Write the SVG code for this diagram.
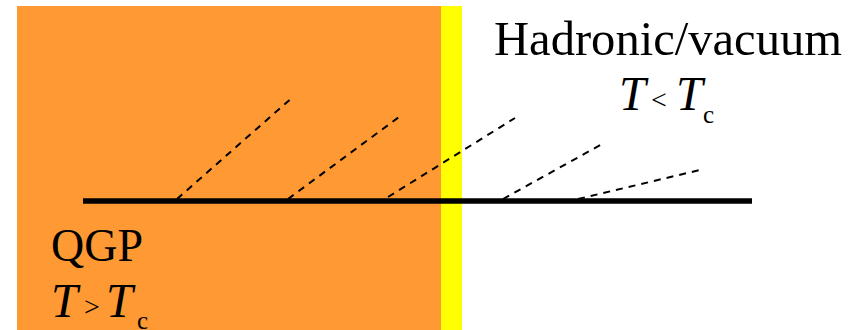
<svg xmlns="http://www.w3.org/2000/svg" width="862" height="330" viewBox="0 0 862 330">
  <style>
    .lbl { font-family: "Liberation Serif", "DejaVu Serif", serif; fill: #000; }
    .it { font-style: italic; }
    .dash { stroke: #000; stroke-width: 2; stroke-dasharray: 7 6; fill: none; }
  </style>
  <rect width="862" height="330" fill="#ffffff"/>
  <g id="qgp-region">
    <rect x="17" y="6" width="424" height="324" fill="#FF9933"/>
  </g>
  <g id="boundary">
    <rect x="441" y="6" width="21" height="324" fill="#FFFF00"/>
  </g>
  <g id="connectors">
    <line x1="83" y1="201" x2="752" y2="201" stroke="#000" stroke-width="5.5"/>
    <line class="dash" x1="177" y1="199" x2="294" y2="96"/>
    <line class="dash" x1="288" y1="199" x2="399" y2="117"/>
    <line class="dash" x1="388" y1="197" x2="515" y2="118"/>
    <line class="dash" x1="503" y1="199" x2="604" y2="143"/>
    <line class="dash" x1="578" y1="199" x2="700" y2="170"/>
  </g>
  <g id="label-hadronic">
    <text class="lbl" x="494" y="55" font-size="48" textLength="348" lengthAdjust="spacingAndGlyphs">Hadronic/vacuum</text>
    <text class="lbl" y="110" font-size="48"><tspan class="it" x="619">T</tspan><tspan x="651" y="109" font-size="28">&lt;</tspan><tspan class="it" x="676" y="110">T</tspan><tspan x="703" y="123" font-size="25">c</tspan></text>
  </g>
  <g id="label-qgp">
    <text class="lbl" x="51" y="261" font-size="47" textLength="92" lengthAdjust="spacingAndGlyphs">QGP</text>
    <text class="lbl" y="317" font-size="48"><tspan class="it" x="51">T</tspan><tspan x="84" y="316" font-size="28">&gt;</tspan><tspan class="it" x="106" y="317">T</tspan><tspan x="137" y="329" font-size="25">c</tspan></text>
  </g>
</svg>
